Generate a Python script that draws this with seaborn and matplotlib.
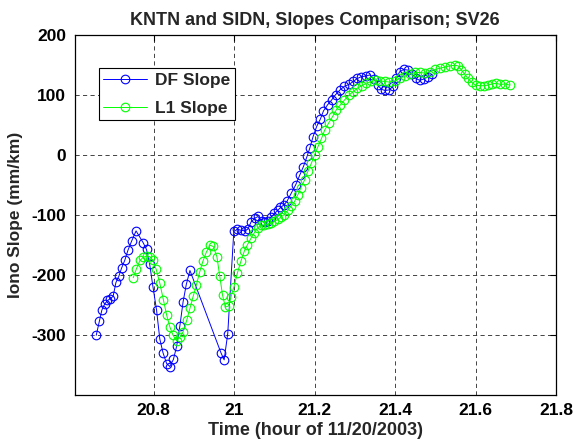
import matplotlib
matplotlib.use("Agg")
import matplotlib.pyplot as plt
import seaborn as sns
import pandas as pd

# ---- data ----
df_time = [20.657, 20.665, 20.671, 20.678, 20.685, 20.692, 20.699, 20.706, 20.713, 20.720,
           20.728, 20.736, 20.745, 20.756, 20.774, 20.782, 20.790, 20.798, 20.807, 20.815,
           20.823, 20.832, 20.840, 20.849, 20.857, 20.865, 20.873, 20.881, 20.890,
           20.967, 20.975, 20.984, 20.999, 21.008, 21.017, 21.026, 21.034, 21.042, 21.051,
           21.059, 21.068, 21.076, 21.084, 21.092, 21.100, 21.108, 21.115, 21.123, 21.131,
           21.142, 21.153, 21.163, 21.172, 21.181, 21.188, 21.196, 21.205, 21.214, 21.222,
           21.232, 21.242, 21.252, 21.263, 21.274, 21.285, 21.296, 21.306, 21.316, 21.327,
           21.337, 21.347, 21.357, 21.366, 21.375, 21.385, 21.395, 21.403, 21.411, 21.421,
           21.432, 21.442, 21.452, 21.461, 21.471, 21.482, 21.492]
df_slope = [-301, -277, -259, -249, -243, -240, -236, -213, -203, -189,
            -176, -159, -144, -127, -147, -158, -183, -220, -259, -307,
            -330, -348, -353, -341, -319, -285, -245, -216, -193,
            -330, -342, -298, -128, -124, -126, -127, -124, -112, -106,
            -103, -110, -113, -110, -104, -98, -93, -88, -84, -78,
            -64, -50, -34, -20, -3, 11, 30, 47, 59, 73,
            83, 91, 100, 108, 114, 117, 122, 127, 130, 131,
            133, 126, 116, 109, 107, 108, 114, 127, 138, 142,
            141, 134, 127, 124, 126, 130, 134]

l1_time = [20.749, 20.757, 20.766, 20.774, 20.782, 20.790, 20.797, 20.806, 20.815, 20.824,
           20.832, 20.840, 20.848, 20.857, 20.865, 20.873, 20.882, 20.890, 20.898, 20.906,
           20.914, 20.922, 20.931, 20.940, 20.948, 20.957, 20.964, 20.971, 20.978, 20.986,
           20.992, 20.999, 21.008, 21.017, 21.025, 21.033, 21.042, 21.050, 21.058, 21.066,
           21.075, 21.083, 21.091, 21.100, 21.108, 21.116, 21.124, 21.133, 21.141, 21.150,
           21.158, 21.166, 21.175, 21.183, 21.192, 21.200, 21.208, 21.217, 21.225, 21.235,
           21.245, 21.254, 21.264, 21.274, 21.285, 21.295, 21.306, 21.318, 21.328, 21.340,
           21.352, 21.362, 21.374, 21.386, 21.399, 21.411, 21.424, 21.436, 21.449, 21.461,
           21.474, 21.486, 21.499, 21.511, 21.523, 21.536, 21.548, 21.557, 21.565, 21.573,
           21.581, 21.590, 21.600, 21.610, 21.620, 21.631, 21.641, 21.652, 21.662, 21.673,
           21.685]
l1_slope = [-205, -190, -176, -171, -169, -170, -175, -191, -214, -242,
            -267, -287, -301, -310, -304, -295, -276, -256, -236, -217,
            -196, -178, -162, -151, -153, -170, -202, -234, -254, -252,
            -237, -221, -197, -177, -161, -150, -139, -130, -122, -118,
            -117, -116, -114, -111, -108, -104, -100, -93, -86, -78,
            -67, -55, -42, -28, -14, 0, 13, 27, 41, 53,
            64, 75, 83, 91, 99, 105, 111, 115, 119, 122,
            124, 123, 122, 121, 123, 127, 131, 134, 137, 137,
            136, 138, 142, 144, 146, 148, 149, 148, 141, 134,
            127, 121, 116, 115, 115, 116, 118, 119, 117, 118,
            116]

series_names = ["DF Slope", "L1 Slope"]
x_ticks = [20.8, 21.0, 21.2, 21.4, 21.6, 21.8]
x_tick_labels = ["20.8", "21", "21.2", "21.4", "21.6", "21.8"]
y_ticks = [-300, -200, -100, 0, 100, 200]

title = "KNTN and SIDN, Slopes Comparison; SV26"
xlabel = "Time (hour of 11/20/2003)"
ylabel = "Iono Slope (mm/km)"

# ---- plotting ----
sns.set_style("white")
plt.rcParams["font.family"] = ["Liberation Sans", "DejaVu Sans"]
plt.rcParams["font.weight"] = "bold"
plt.rcParams["axes.unicode_minus"] = False

df1 = pd.DataFrame({"t": df_time, "v": df_slope})
df2 = pd.DataFrame({"t": l1_time, "v": l1_slope})

fig = plt.figure(figsize=(5.74, 4.43), dpi=100)
ax = fig.add_axes([74.5 / 574, (443 - 394.7) / 443, 481.5 / 574, 360 / 443])

for d, name, col in [(df1, series_names[0], (0, 0, 1)), (df2, series_names[1], (0, 1, 0))]:
    sns.lineplot(data=d, x="t", y="v", ax=ax, sort=False, estimator=None,
                 color=col, linewidth=0.7, marker="o", markersize=6.2,
                 markerfacecolor="none", markeredgecolor=col, markeredgewidth=0.8,
                 label=name)

ax.set_xlim(20.603, 21.8)
ax.set_ylim(-400, 200)
ax.set_xticks(x_ticks)
ax.set_xticklabels(x_tick_labels)
ax.set_yticks(y_ticks)

ax.grid(True, color="0.15", linestyle=(0, (5, 4)), linewidth=0.6)
ax.tick_params(direction="in", length=4, width=0.8, top=True, right=True,
               labelsize=12.5, colors="black", pad=6)
for lab in ax.get_xticklabels() + ax.get_yticklabels():
    lab.set_fontweight("bold")
for sp in ax.spines.values():
    sp.set_visible(True)
    sp.set_color("black")
    sp.set_linewidth(0.9)

ax.set_title(title, fontsize=13, fontweight="bold", pad=7)
ax.set_xlabel(xlabel, fontsize=13, fontweight="bold", labelpad=3)
ax.set_ylabel(ylabel, fontsize=12.5, fontweight="bold", labelpad=6)

leg = ax.legend(loc="upper right", bbox_to_anchor=((235 - 74.5) / 481.5, 1 - (68.3 - 34.7) / 360),
                fancybox=False, framealpha=1, edgecolor="black", fontsize=12.5,
                borderpad=0.25, handlelength=2.5, handletextpad=0.5, labelspacing=0.75,
                borderaxespad=0)
leg.get_frame().set_linewidth(0.8)
for t in leg.get_texts():
    t.set_fontweight("bold")

fig.savefig("out.png", dpi=100)
